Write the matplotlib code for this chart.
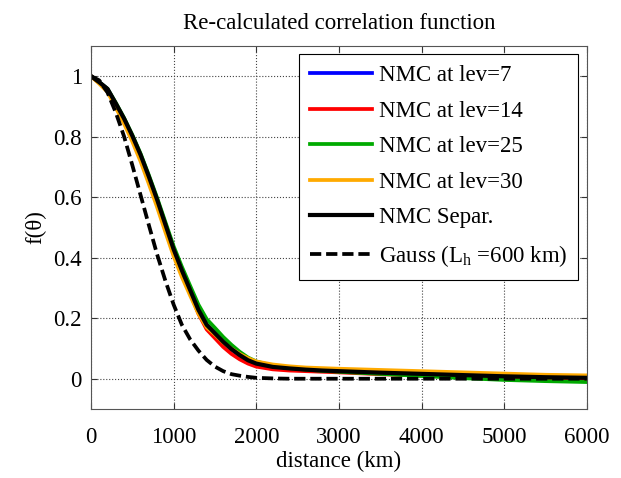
import numpy as np
import matplotlib
matplotlib.use("Agg")
import matplotlib.pyplot as plt

plt.rcParams['font.family'] = ['Liberation Serif', 'DejaVu Serif']
plt.rcParams['mathtext.fontset'] = 'custom'
plt.rcParams['mathtext.rm'] = 'Liberation Serif'
plt.rcParams['mathtext.it'] = 'Liberation Serif:italic'

# distances (km) where the curves were read
dist = [0, 100, 200, 300, 400, 500, 600, 700, 800, 900, 1000, 1100, 1200,
        1300, 1400, 1500, 1600, 1700, 1800, 1900, 2000, 2200, 2400, 2600,
        2800, 3000, 3500, 4000, 4500, 5000, 5500, 6000]

nmc_separ = [1.0, 0.98, 0.958, 0.91, 0.86, 0.803, 0.74, 0.668, 0.592, 0.51,
             0.428, 0.358, 0.293, 0.228, 0.178, 0.15, 0.122, 0.098, 0.078,
             0.061, 0.05, 0.039, 0.034, 0.03, 0.027, 0.025, 0.02, 0.016,
             0.012, 0.008, 0.005, 0.003]
nmc_lev7 = [1.0, 0.98, 0.957, 0.908, 0.858, 0.8, 0.737, 0.665, 0.589, 0.507,
            0.426, 0.356, 0.291, 0.227, 0.177, 0.149, 0.121, 0.097, 0.077,
            0.06, 0.049, 0.038, 0.033, 0.029, 0.026, 0.024, 0.019, 0.015,
            0.011, 0.007, 0.004, 0.002]
nmc_lev14 = [1.0, 0.978, 0.954, 0.903, 0.852, 0.793, 0.728, 0.655, 0.58, 0.498,
             0.418, 0.348, 0.283, 0.215, 0.163, 0.134, 0.105, 0.082, 0.064,
             0.05, 0.04, 0.031, 0.027, 0.025, 0.023, 0.021, 0.015, 0.01,
             0.005, 0.001, -0.002, -0.004]
nmc_lev25 = [1.0, 0.98, 0.958, 0.912, 0.862, 0.806, 0.744, 0.673, 0.598, 0.518,
             0.438, 0.37, 0.307, 0.245, 0.197, 0.168, 0.138, 0.112, 0.089,
             0.07, 0.057, 0.043, 0.035, 0.03, 0.026, 0.023, 0.016, 0.009,
             0.002, -0.004, -0.008, -0.011]
nmc_lev30 = [1.0, 0.975, 0.948, 0.896, 0.843, 0.784, 0.718, 0.644, 0.567, 0.485,
             0.405, 0.336, 0.275, 0.215, 0.17, 0.146, 0.12, 0.099, 0.082,
             0.068, 0.057, 0.047, 0.041, 0.037, 0.035, 0.033, 0.029, 0.025,
             0.021, 0.017, 0.013, 0.011]
gauss = [1.0, 0.986, 0.946, 0.88, 0.801, 0.706, 0.607, 0.508, 0.411, 0.324,
         0.245, 0.178, 0.13, 0.093, 0.062, 0.04, 0.025, 0.015, 0.01, 0.006,
         0.003, 0.001, 0.0, 0.0, 0.0, 0.0, 0.0, 0.0, 0.0, 0.0, 0.0, 0.0]

labels = ['NMC at lev=7', 'NMC at lev=14', 'NMC at lev=25', 'NMC at lev=30',
          'NMC Separ.', r'Gauss (L$_{\mathrm{h}}$ =600 km)']

fs = 16.5
fig = plt.figure(figsize=(6.21, 4.78), dpi=100)
ax = fig.add_axes([0.1465, 0.1444, 0.7985, 0.7596])

ax.plot(dist, nmc_lev7, color='#0000ff', lw=2.7, label=labels[0])
ax.plot(dist, nmc_lev14, color='#ff0000', lw=2.7, label=labels[1])
ax.plot(dist, nmc_lev25, color='#00aa00', lw=2.7, label=labels[2])
ax.plot(dist, nmc_lev30, color='#ffaa00', lw=2.7, label=labels[3])
ax.plot(dist, nmc_separ, color='black', lw=3, label=labels[4])
ax.plot(dist, gauss, color='black', lw=2.7, ls=(0, (3, 1.3)), label=labels[5])

ax.set_xlim(0, 6000)
ax.set_ylim(-0.1, 1.1)
ax.set_xticks([0, 1000, 2000, 3000, 4000, 5000, 6000])
ax.set_yticks([0, 0.2, 0.4, 0.6, 0.8, 1])
ax.set_yticklabels(['0', '0.2', '0.4', '0.6', '0.8', '1'])
ax.tick_params(direction='in', top=True, right=True, labelsize=fs, length=4,
               color='#333333')
ax.tick_params(axis='x', pad=13)
ax.tick_params(axis='y', pad=6.5)
ax.grid(True, ls=':', color='#444444', lw=0.8)
for s in ax.spines.values():
    s.set_color('#555555')

ax.set_title('Re-calculated correlation function', fontsize=fs, pad=12)
ax.set_xlabel('distance (km)', fontsize=fs, labelpad=2)
ax.set_ylabel('f(θ)', fontsize=fs, labelpad=5)

leg = ax.legend(loc='upper right', fontsize=fs, handlelength=2.7,
                handletextpad=0.3, labelspacing=0.63, borderaxespad=0.37,
                fancybox=False, framealpha=1, edgecolor='black',
                borderpad=0.48)
leg.get_frame().set_linewidth(0.8)

fig.savefig('out.png', dpi=100)
